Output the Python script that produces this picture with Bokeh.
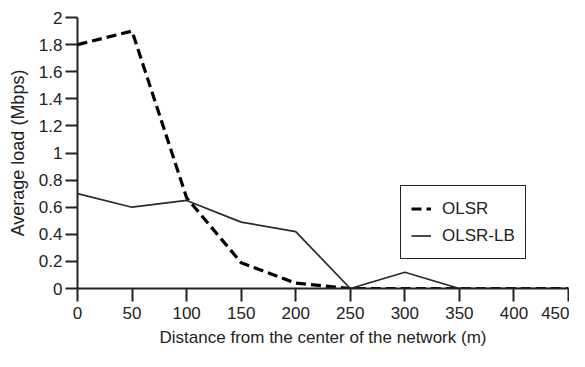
from bokeh.plotting import figure
from bokeh.models import Range1d, FixedTicker, Legend, LegendItem, CustomJSTickFormatter
from bokeh.embed import file_html
from bokeh.resources import INLINE

distance = [0, 50, 100, 150, 200, 250, 300, 350, 400, 450]
olsr = [1.8, 1.9, 0.67, 0.19, 0.04, 0.0, 0.0, 0.0, 0.0, 0.0]
olsr_lb = [0.7, 0.6, 0.65, 0.49, 0.42, 0.0, 0.12, 0.0, 0.0, 0.0]
x_ticks = [0, 50, 100, 150, 200, 250, 300, 350, 400, 450]
y_ticks = [0, 0.2, 0.4, 0.6, 0.8, 1.0, 1.2, 1.4, 1.6, 1.8, 2.0]

FONT = "Liberation Sans"
INK = "#222222"

p = figure(width=569, height=351, output_backend="svg", toolbar_location=None,
           x_range=Range1d(0, 450), y_range=Range1d(0, 2),
           min_border_left=77, min_border_right=1, min_border_top=17, min_border_bottom=63)
p.outline_line_color = None
p.xgrid.visible = False
p.ygrid.visible = False

r1 = p.line(distance, olsr, line_color="black", line_width=3.2, line_dash="10 5")
r2 = p.line(distance, olsr_lb, line_color="#2a2a2a", line_width=1.7)

for ax in (p.xaxis[0], p.yaxis[0]):
    ax.axis_line_width = 2
    ax.axis_line_color = INK
    ax.major_tick_line_width = 2
    ax.major_tick_line_color = INK
    ax.major_tick_in = 0
    ax.minor_tick_line_color = None
    ax.major_label_text_font = FONT
    ax.major_label_text_font_size = "17px"
    ax.major_label_text_color = INK
    ax.axis_label_text_font = FONT
    ax.axis_label_text_font_style = "normal"
    ax.axis_label_text_color = INK

p.xaxis.axis_label_text_font_size = "17px"
p.yaxis.axis_label_text_font_size = "18px"
p.xaxis.ticker = FixedTicker(ticks=x_ticks)
p.yaxis.ticker = FixedTicker(ticks=y_ticks)
p.yaxis.formatter = CustomJSTickFormatter(code="return String(Math.round(tick*10)/10);")
p.xaxis.major_tick_out = 13
p.yaxis.major_tick_out = 12
p.xaxis.major_label_standoff = 5
p.yaxis.major_label_standoff = 3
p.xaxis.axis_label = "Distance from the center of the network (m)"
p.yaxis.axis_label = "Average load (Mbps)"
p.xaxis.axis_label_standoff = 6
p.yaxis.axis_label_standoff = 8

legend = Legend(items=[LegendItem(label="OLSR", renderers=[r1]),
                       LegendItem(label="OLSR-LB", renderers=[r2])],
                location=(323, 29))
legend.border_line_color = INK
legend.border_line_alpha = 1.0
legend.border_line_width = 1.3
legend.padding = 10
legend.spacing = 2
legend.margin = 0
legend.glyph_width = 20
legend.glyph_height = 25
legend.label_height = 25
legend.label_standoff = 11
legend.label_text_font = FONT
legend.label_text_font_size = "17px"
legend.label_text_color = INK
legend.background_fill_alpha = 1
p.add_layout(legend, "center")

open("out.html", "w").write(file_html(p, INLINE))
